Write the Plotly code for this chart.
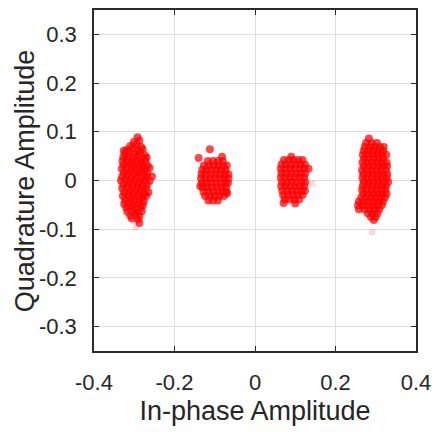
import plotly.graph_objects as go

# Received PAM-4 constellation points (In-phase, Quadrature)
cluster_m3 = [
    (-0.292, 0.089),
    (-0.301, 0.079), (-0.287, 0.082),
    (-0.310, 0.071), (-0.295, 0.074), (-0.283, 0.069),
    (-0.318, 0.063), (-0.304, 0.066), (-0.291, 0.061), (-0.279, 0.064), (-0.326, 0.061),
    (-0.323, 0.056), (-0.311, 0.058), (-0.299, 0.054), (-0.286, 0.057), (-0.274, 0.052),
    (-0.327, 0.048), (-0.315, 0.050), (-0.303, 0.046), (-0.291, 0.049), (-0.280, 0.045), (-0.269, 0.047),
    (-0.329, 0.040), (-0.318, 0.042), (-0.306, 0.038), (-0.295, 0.041), (-0.283, 0.037), (-0.272, 0.040),
    (-0.327, 0.032), (-0.314, 0.034), (-0.302, 0.030), (-0.290, 0.033), (-0.278, 0.029), (-0.267, 0.031),
    (-0.331, 0.024), (-0.319, 0.026), (-0.307, 0.022), (-0.296, 0.025), (-0.284, 0.021), (-0.273, 0.023), (-0.262, 0.026),
    (-0.326, 0.016), (-0.313, 0.018), (-0.301, 0.014), (-0.289, 0.017), (-0.277, 0.013), (-0.267, 0.015),
    (-0.330, 0.008), (-0.318, 0.010), (-0.306, 0.006), (-0.294, 0.009), (-0.282, 0.005), (-0.270, 0.007), (-0.256, 0.008),
    (-0.333, 0.000), (-0.321, 0.002), (-0.309, -0.002), (-0.297, 0.001), (-0.286, -0.003), (-0.274, 0.000), (-0.262, -0.001),
    (-0.327, -0.008), (-0.315, -0.006), (-0.303, -0.010), (-0.291, -0.007), (-0.279, -0.011), (-0.268, -0.008),
    (-0.330, -0.016), (-0.318, -0.014), (-0.306, -0.018), (-0.294, -0.015), (-0.283, -0.019), (-0.271, -0.016),
    (-0.325, -0.024), (-0.312, -0.022), (-0.300, -0.026), (-0.288, -0.023), (-0.276, -0.027), (-0.265, -0.024),
    (-0.328, -0.032), (-0.316, -0.030), (-0.304, -0.034), (-0.292, -0.031), (-0.280, -0.035), (-0.270, -0.032),
    (-0.323, -0.040), (-0.311, -0.038), (-0.299, -0.042), (-0.287, -0.039), (-0.276, -0.043),
    (-0.325, -0.048), (-0.314, -0.046), (-0.302, -0.050), (-0.290, -0.047), (-0.279, -0.051),
    (-0.320, -0.056), (-0.308, -0.054), (-0.296, -0.058), (-0.284, -0.055),
    (-0.317, -0.064), (-0.304, -0.062), (-0.292, -0.066), (-0.281, -0.063),
    (-0.310, -0.072), (-0.298, -0.070), (-0.287, -0.074),
    (-0.306, -0.078), (-0.291, -0.080),
    (-0.287, -0.087),
]

cluster_m1 = [
    (-0.112, 0.064), (-0.140, 0.046), (-0.082, 0.049),
    (-0.117, 0.040), (-0.104, 0.040), (-0.092, 0.040), (-0.080, 0.040),
    (-0.127, 0.031), (-0.115, 0.031), (-0.103, 0.031), (-0.091, 0.031), (-0.079, 0.031), (-0.070, 0.031),
    (-0.131, 0.022), (-0.120, 0.022), (-0.108, 0.022), (-0.096, 0.022), (-0.084, 0.022), (-0.073, 0.022),
    (-0.133, 0.013), (-0.122, 0.013), (-0.110, 0.013), (-0.098, 0.013), (-0.086, 0.013), (-0.075, 0.013), (-0.066, 0.013),
    (-0.134, 0.004), (-0.123, 0.004), (-0.111, 0.004), (-0.099, 0.004), (-0.087, 0.004), (-0.076, 0.004), (-0.066, 0.004),
    (-0.132, -0.005), (-0.121, -0.005), (-0.109, -0.005), (-0.097, -0.005), (-0.085, -0.005), (-0.074, -0.005), (-0.067, -0.005),
    (-0.130, -0.014), (-0.119, -0.014), (-0.107, -0.014), (-0.095, -0.014), (-0.083, -0.014), (-0.072, -0.014),
    (-0.128, -0.023), (-0.116, -0.023), (-0.104, -0.023), (-0.092, -0.023), (-0.080, -0.023), (-0.071, -0.023),
    (-0.124, -0.032), (-0.112, -0.032), (-0.100, -0.032), (-0.088, -0.032), (-0.077, -0.032),
    (-0.116, -0.041), (-0.104, -0.041), (-0.092, -0.041),
    (-0.136, -0.012), (-0.069, -0.026),
]

cluster_p1 = [
    (0.090, 0.049),
    (0.072, 0.042), (0.084, 0.042), (0.096, 0.042), (0.108, 0.042), (0.118, 0.042),
    (0.066, 0.033), (0.077, 0.033), (0.089, 0.033), (0.101, 0.033), (0.113, 0.033), (0.124, 0.033),
    (0.064, 0.024), (0.075, 0.024), (0.087, 0.024), (0.099, 0.024), (0.111, 0.024), (0.122, 0.024), (0.133, 0.024),
    (0.066, 0.015), (0.078, 0.015), (0.090, 0.015), (0.102, 0.015), (0.114, 0.015), (0.125, 0.015),
    (0.064, 0.006), (0.075, 0.006), (0.087, 0.006), (0.099, 0.006), (0.111, 0.006), (0.122, 0.006),
    (0.067, -0.003), (0.079, -0.003), (0.091, -0.003), (0.103, -0.003), (0.115, -0.003), (0.125, -0.003),
    (0.065, -0.012), (0.076, -0.012), (0.088, -0.012), (0.100, -0.012), (0.112, -0.012), (0.122, -0.012),
    (0.068, -0.021), (0.080, -0.021), (0.092, -0.021), (0.104, -0.021), (0.116, -0.021), (0.124, -0.021),
    (0.070, -0.030), (0.082, -0.030), (0.094, -0.030), (0.106, -0.030), (0.118, -0.030),
    (0.074, -0.039), (0.086, -0.039), (0.098, -0.039), (0.110, -0.039),
    (0.071, -0.046), (0.100, -0.047),
]

cluster_p3 = [
    (0.283, 0.086),
    (0.276, 0.077), (0.290, 0.077), (0.303, 0.077),
    (0.273, 0.069), (0.286, 0.069), (0.298, 0.069), (0.310, 0.069), (0.320, 0.069),
    (0.270, 0.061), (0.282, 0.061), (0.294, 0.061), (0.306, 0.061), (0.318, 0.061),
    (0.268, 0.053), (0.280, 0.053), (0.292, 0.053), (0.304, 0.053), (0.316, 0.053), (0.326, 0.053),
    (0.271, 0.045), (0.283, 0.045), (0.295, 0.045), (0.307, 0.045), (0.319, 0.045),
    (0.267, 0.037), (0.279, 0.037), (0.291, 0.037), (0.303, 0.037), (0.315, 0.037), (0.327, 0.037),
    (0.270, 0.029), (0.282, 0.029), (0.294, 0.029), (0.306, 0.029), (0.318, 0.029), (0.328, 0.029),
    (0.266, 0.021), (0.278, 0.021), (0.290, 0.021), (0.302, 0.021), (0.314, 0.021), (0.325, 0.021),
    (0.269, 0.013), (0.281, 0.013), (0.293, 0.013), (0.305, 0.013), (0.317, 0.013), (0.329, 0.013),
    (0.267, 0.005), (0.279, 0.005), (0.291, 0.005), (0.303, 0.005), (0.315, 0.005), (0.327, 0.005),
    (0.270, -0.003), (0.282, -0.003), (0.294, -0.003), (0.306, -0.003), (0.318, -0.003), (0.331, -0.003),
    (0.268, -0.011), (0.280, -0.011), (0.292, -0.011), (0.304, -0.011), (0.316, -0.011), (0.326, -0.011),
    (0.266, -0.019), (0.278, -0.019), (0.290, -0.019), (0.302, -0.019), (0.314, -0.019), (0.324, -0.019),
    (0.269, -0.027), (0.281, -0.027), (0.293, -0.027), (0.305, -0.027), (0.317, -0.027), (0.327, -0.027),
    (0.264, -0.035), (0.276, -0.035), (0.288, -0.035), (0.300, -0.035), (0.312, -0.035), (0.323, -0.035),
    (0.258, -0.043), (0.270, -0.043), (0.282, -0.043), (0.294, -0.043), (0.306, -0.043), (0.318, -0.043),
    (0.256, -0.051), (0.268, -0.051), (0.280, -0.051), (0.292, -0.051), (0.304, -0.051), (0.315, -0.051),
    (0.258, -0.059), (0.272, -0.059), (0.285, -0.059), (0.297, -0.059), (0.309, -0.059),
    (0.280, -0.067), (0.292, -0.067), (0.304, -0.067),
    (0.288, -0.075), (0.300, -0.075),
    (0.295, -0.081),
]

# very faint stray points
faint_points = [(0.291, -0.106), (0.142, -0.006), (-0.296, -0.095)]

x_ticks = [-0.4, -0.2, 0, 0.2, 0.4]
x_tick_labels = ["-0.4", "-0.2", "0", "0.2", "0.4"]
y_ticks = [-0.3, -0.2, -0.1, 0, 0.1, 0.2, 0.3]
y_tick_labels = ["-0.3", "-0.2", "-0.1", "0", "0.1", "0.2", "0.3"]
x_title = "In-phase Amplitude"
y_title = "Quadrature Amplitude"

all_points = cluster_m3 + cluster_m1 + cluster_p1 + cluster_p3
i_vals = [p[0] for p in all_points]
q_vals = [p[1] for p in all_points]

fig = go.Figure()
fig.add_trace(go.Scatter(
    x=[p[0] for p in faint_points], y=[p[1] for p in faint_points], mode="markers",
    marker=dict(color="rgb(255,0,0)", size=7, opacity=0.15, line=dict(width=0)),
    showlegend=False,
))
fig.add_trace(go.Scatter(
    x=i_vals, y=q_vals, mode="markers",
    marker=dict(color="rgb(255,0,0)", size=8, opacity=0.72, line=dict(width=0)),
    showlegend=False,
))

font_family = "Liberation Sans, Arial, sans-serif"
axis_common = dict(
    showline=True, linecolor="#2b2b2b", linewidth=1.5, mirror="allticks",
    ticks="inside", ticklen=5, tickcolor="#2b2b2b", tickwidth=1,
    showgrid=True, gridcolor="#dedede", gridwidth=1,
    zeroline=False,
    tickfont=dict(family=font_family, size=22, color="#262626"),
)
fig.update_xaxes(
    range=[-0.4, 0.4], tickvals=x_ticks, ticktext=x_tick_labels,
    title=dict(text=x_title, font=dict(family=font_family, size=27, color="#262626"), standoff=7),
    ticklabelstandoff=11,
    **axis_common,
)
fig.update_yaxes(
    range=[-0.35, 0.35], tickvals=y_ticks, ticktext=y_tick_labels,
    ticklabelstandoff=11,
    **axis_common,
)
fig.add_annotation(
    text=y_title, xref="paper", yref="paper", x=-0.215, y=0.5,
    xanchor="center", yanchor="middle", textangle=-90, showarrow=False,
    font=dict(family=font_family, size=27, color="#262626"),
)
fig.update_layout(
    width=439, height=432,
    margin=dict(l=94, r=17, t=8, b=81),
    plot_bgcolor="white", paper_bgcolor="white",
)
fig.write_html("out.html")
